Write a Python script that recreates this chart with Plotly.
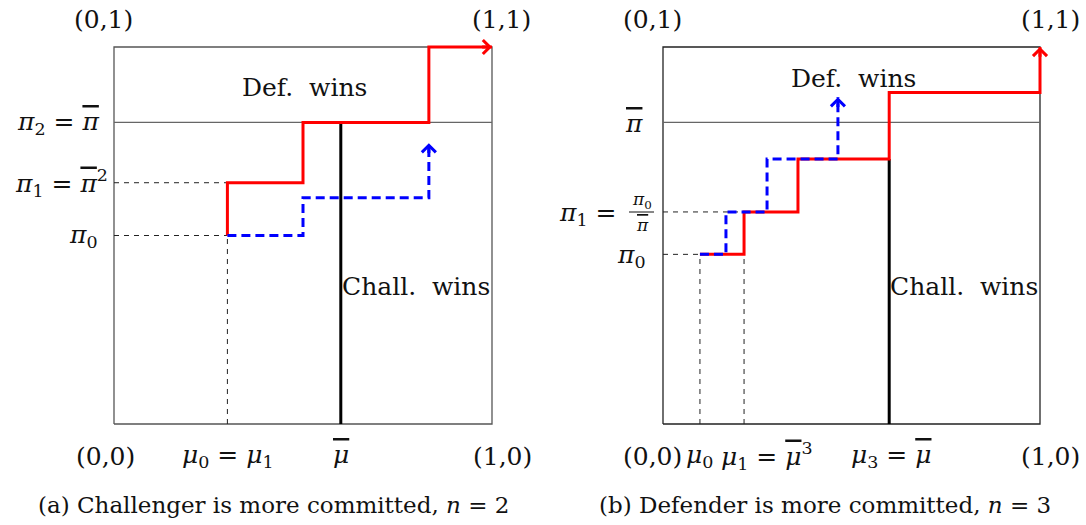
import plotly.graph_objects as go

W, H = 1086, 525

# ---------------- data ----------------
# Panel (a): Challenger is more committed, n = 2
a_red_x = [0.30, 0.50, 0.833, 1.00]     # red path corners (vertical-then-horizontal)
a_red_y = [0.50, 0.64, 0.80, 1.00]
a_blue_x = [0.30, 0.50, 0.833]          # blue dashed path (horizontal-then-vertical)
a_blue_y = [0.50, 0.60, 0.745]
a_pibar = 0.80
a_mubar = 0.60

# Panel (b): Defender is more committed, n = 3
b_red_x = [0.098, 0.215, 0.358, 0.60, 1.00]
b_red_y = [0.45, 0.5625, 0.703, 0.879, 1.00]
b_blue_x = [0.098, 0.167, 0.276, 0.464]
b_blue_y = [0.45, 0.5625, 0.703, 0.867]
b_pibar = 0.80
b_mubar = 0.60

RED = "#ff0000"
BLUE = "#0000ff"
FONT = "DejaVu Serif"
FS = 25
CAP_FS = 23

# ---------------- layout geometry (pixels) ----------------
PAD = 0.05
A_X0, A_X1 = 114, 492
B_X0, B_X1 = 663, 1040
Y_BOT, Y_TOP = 424, 47


def dom_x(p0, p1):
    u = p1 - p0
    return [(p0 - PAD * u) / W, (p1 + PAD * u) / W]


def dom_y(p0, p1):
    u = p0 - p1
    return [1 - (p0 + PAD * u) / H, 1 - (p1 - PAD * u) / H]


def px(x):
    return x / W


def py(y):
    return 1 - y / H


fig = go.Figure()


def line(xs, ys, ax, color, width, dash="solid", shape="linear"):
    fig.add_trace(go.Scatter(
        x=xs, y=ys, mode="lines", xaxis=ax[0], yaxis=ax[1],
        line=dict(color=color, width=width, dash=dash, shape=shape),
        hoverinfo="skip", showlegend=False))


def arrow(ax, tip, direction, color):
    eps = 0.03
    tx, ty = tip
    if direction == "right":
        sx, sy = tx - eps, ty
    else:
        sx, sy = tx, ty - eps
    xr, yr = ax
    fig.add_annotation(x=tx, y=ty, ax=sx, ay=sy, xref=xr, yref=yr,
                       axref=xr, ayref=yr, text="", showarrow=True,
                       arrowhead=4, arrowsize=0.9, arrowwidth=3,
                       arrowcolor=color, standoff=0)


AXA = ("x", "y")
AXB = ("x2", "y2")

for ax, pibar, boxc in ((AXA, a_pibar, "#555555"), (AXB, b_pibar, "#222222")):
    # box
    line([0, 1, 1, 0, 0], [0, 0, 1, 1, 0], ax, boxc, 1.3)
    # pi-bar threshold
    line([0, 1], [pibar, pibar], ax, "#666666", 1.3)

# ---- panel (a) ----
line([0, a_red_x[0]], [a_red_y[1], a_red_y[1]], AXA, "#222222", 1, "5px,5px")
line([0, a_red_x[0]], [a_red_y[0], a_red_y[0]], AXA, "#222222", 1, "5px,5px")
line([a_red_x[0], a_red_x[0]], [0, a_red_y[0]], AXA, "#222222", 1, "5px,5px")
line([a_mubar, a_mubar], [0, a_red_y[2]], AXA, "#000000", 3)
line(a_red_x, a_red_y, AXA, RED, 3, shape="vh")
line(a_blue_x, a_blue_y, AXA, BLUE, 3, "9px,5px", shape="hv")
arrow(AXA, (a_red_x[-1], a_red_y[-1]), "right", RED)
arrow(AXA, (a_blue_x[-1], a_blue_y[-1]), "up", BLUE)

# ---- panel (b) ----
line([0, b_red_x[1]], [b_red_y[1], b_red_y[1]], AXB, "#222222", 1, "5px,5px")
line([0, b_red_x[0]], [b_red_y[0], b_red_y[0]], AXB, "#222222", 1, "5px,5px")
line([b_red_x[0], b_red_x[0]], [0, b_red_y[0]], AXB, "#222222", 1, "5px,5px")
line([b_red_x[1], b_red_x[1]], [0, b_red_y[0]], AXB, "#222222", 1, "5px,5px")
line([b_mubar, b_mubar], [0, b_red_y[2]], AXB, "#000000", 3)
line(b_red_x, b_red_y, AXB, RED, 3, shape="hv")
line(b_blue_x, b_blue_y, AXB, BLUE, 3, "9px,5px", shape="hv")
arrow(AXB, (b_red_x[-1], b_red_y[-1]), "up", RED)
arrow(AXB, (b_blue_x[-1], b_blue_y[-1]), "up", BLUE)

# ---------------- text ----------------
OV = '<span style="text-decoration:overline">'
PI = "<i>π</i>"
PIBAR = f"<i>{OV}π</span></i>"
MU = "<i>μ</i>"
MUBAR = f"<i>{OV}μ</span></i>"


def label(text, x, y, xa="center", size=FS):
    fig.add_annotation(x=px(x), y=py(y), xref="paper", yref="paper",
                       text=text, showarrow=False, xanchor=xa, yanchor="middle",
                       font=dict(family=FONT, size=size, color="#111111"))


# panel (a)
label("(0,1)", 103, 20)
label("(1,1)", 501, 20)
label("Def.\u00a0 wins", 304, 87)
label("Chall.\u00a0 wins", 340, 286, "left")
label(f"{PI}<sub>2</sub> = {PIBAR}", 101, 123, "right")
label(f"{PI}<sub>1</sub> = {PIBAR}<sup>2</sup>", 110, 183, "right")
label(f"{PI}<sub>0</sub>", 100, 236, "right")
label("(0,0)", 105, 456)
label(f"{MU}<sub>0</sub> = {MU}<sub>1</sub>", 228, 456)
label(MUBAR, 341, 454)
label("(1,0)", 502, 456)
label("(a) Challenger is more committed, <i>n</i> = 2", 273, 505, size=CAP_FS)

# panel (b)
label("(0,1)", 652, 20)
label("(1,1)", 1050, 20)
label("Def.\u00a0 wins", 853, 78)
label("Chall.\u00a0 wins", 888, 286, "left")
label(PIBAR, 645, 123, "right")
label(f"{PI}<sub>1</sub> =", 618, 214, "right")
label(f"{PI}<sub>0</sub>", 642, 201, size=17)
label(PIBAR, 642, 225, size=17)
label(f"{PI}<sub>0</sub>", 648, 256, "right")
label("(0,0)", 652, 456)
label(f"{MU}<sub>0</sub>", 699, 456)
label(f"{MU}<sub>1</sub> = {MUBAR}<sup>3</sup>", 767, 456)
label(f"{MU}<sub>3</sub> = {MUBAR}", 891, 456)
label("(1,0)", 1050, 456)
label("(b) Defender is more committed, <i>n</i> = 3", 825, 505, size=CAP_FS)

# fraction bar
fig.add_shape(type="line", xref="paper", yref="paper",
              x0=px(629), x1=px(654), y0=py(212), y1=py(212),
              line=dict(color="#111111", width=1))

axis_common = dict(visible=False, range=[-PAD, 1 + PAD], fixedrange=True)
fig.update_layout(
    width=W, height=H, margin=dict(l=0, r=0, t=0, b=0),
    paper_bgcolor="white", plot_bgcolor="white",
    xaxis=dict(domain=dom_x(A_X0, A_X1), anchor="y", **axis_common),
    yaxis=dict(domain=dom_y(Y_BOT, Y_TOP), anchor="x", **axis_common),
    xaxis2=dict(domain=dom_x(B_X0, B_X1), anchor="y2", **axis_common),
    yaxis2=dict(domain=dom_y(Y_BOT, Y_TOP), anchor="x2", **axis_common),
    font=dict(family=FONT),
)

fig.write_html("out.html", config={"displayModeBar": False},
               post_script="document.body.style.margin='0';")
